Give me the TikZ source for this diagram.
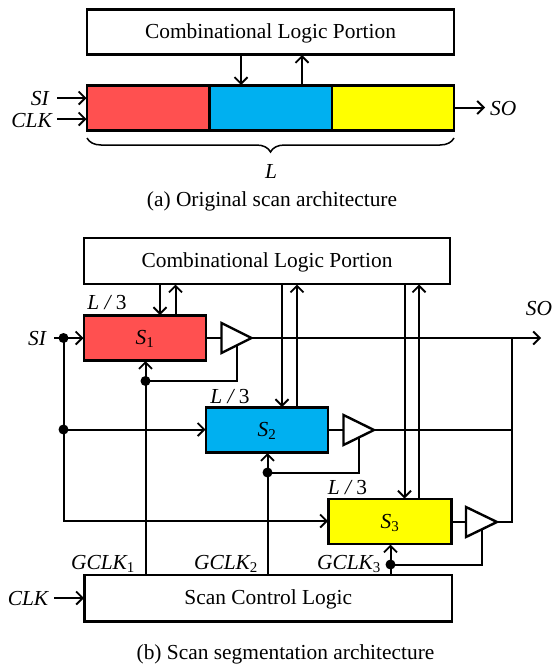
\documentclass[tikz,border=0pt]{standalone}
\usepackage{fontspec}
\setmainfont{Liberation Serif}
\usetikzlibrary{arrows.meta,decorations.pathreplacing}
\definecolor{cred}{RGB}{255,80,80}
\definecolor{cblue}{RGB}{0,176,240}
\definecolor{cyel}{RGB}{255,255,0}
\newcommand{\fz}{\fontsize{21.4}{24}\selectfont}
\begin{document}
\begin{tikzpicture}[x=1pt,y=-1pt,
  wire/.style={line width=2pt,line join=miter},
  arr/.style={wire,-{Straight Barb[length=6.5pt,width=13pt,line width=1.9pt]}},
  boxn/.style={draw,line width=2.4pt,anchor=north west,inner sep=0pt,outer sep=0pt,font=\fz,text height=16pt,text depth=3pt},
  reg/.style={boxn,font=\fz\itshape},
  lab/.style={inner sep=0pt,font=\fz},
  ilab/.style={inner sep=0pt,font=\fz\itshape,yshift=-1pt},
  dotn/.style={circle,fill=black,inner sep=0pt,minimum size=10pt},
  buf/.style={draw,line width=2.4pt,line join=miter}]
\useasboundingbox (0,0) rectangle (554,664);
% (a)
\node[boxn,minimum width=367pt,minimum height=45pt] (ca) at (87,9.5) {Combinational Logic Portion};
\node[boxn,fill=cred,minimum width=122.5pt,minimum height=45pt] (ra) at (87,85.5) {};
\node[boxn,fill=cblue,minimum width=122.5pt,minimum height=45pt] (rb) at (209.5,85.5) {};
\node[boxn,fill=cyel,minimum width=122pt,minimum height=45pt] (rc) at (332,85.5) {};
\coordinate (a1) at (241,54.5); \coordinate (a1e) at (241,85);
\coordinate (a2) at (302,85.5); \coordinate (a2e) at (302,55);
\draw[arr] (a1) -- (a1e);
\draw[arr] (a2) -- (a2e);
\node[ilab,anchor=east] (si) at (49,98) {SI};
\node[ilab,anchor=east] (clk) at (52,119.5) {CLK};
\coordinate (siS) at (57,98); \coordinate (siE) at (86.5,98);
\coordinate (clkS) at (57,119) ; \coordinate (clkE) at (86.5,119);
\draw[arr] (siS) -- (siE);
\draw[arr] (clkS) -- (clkE);
\coordinate (soS) at (454,107.5); \coordinate (soE) at (485,107.5);
\draw[arr] (soS) -- (soE);
\node[ilab,anchor=west] (so) at (490,107.5) {SO};
\coordinate (bl) at (87,138); \coordinate (br) at (454,138);
\draw[line width=1.5pt,decorate,decoration={brace,mirror,amplitude=14pt}] (bl) -- (br);
\node[ilab] (l) at (271,170) {L};
\node[lab] (capa) at (272,201.5) {(a) Original scan architecture};
% (b)
\node[boxn,minimum width=366pt,minimum height=46pt] (cb) at (84,238) {Combinational Logic Portion};
\node[reg,fill=cred,minimum width=122pt,minimum height=45pt] (s1) at (84,315.5) {S\textsubscript{\normalfont 1}};
\node[reg,fill=cblue,minimum width=122pt,minimum height=45pt] (s2) at (206,407.5) {S\textsubscript{\normalfont 2}};
\node[reg,fill=cyel,minimum width=123pt,minimum height=45pt] (s3) at (328.5,499) {S\textsubscript{\normalfont 3}};
\node[boxn,minimum width=367.5pt,minimum height=46.5pt] (scl) at (84.5,575) {Scan Control Logic};
% buffers
\draw[buf] (221.5,323) coordinate (b1a) -- (221.5,353) -- (251.5,338) coordinate (b1t) -- cycle;
\draw[buf] (343.5,415) coordinate (b2a) -- (343.5,445) -- (374,430) coordinate (b2t) -- cycle;
\draw[buf] (466,507) coordinate (b3a) -- (466,537) -- (497,522) coordinate (b3t) -- cycle;
\draw[wire] (206,338) -- (221.5,338);
\draw[wire] (328,430) -- (343.5,430);
\draw[wire] (451.5,522) -- (466,522);
% SI
\node[ilab] (sib) at (37,338) {SI};
\node[dotn] (d1) at (63.5,338) {};
\node[dotn] (d2) at (63.5,429.5) {};
\coordinate (siBs) at (54,338);
\draw[arr] (siBs) -- (83.5,338);
\draw[arr] (d1.center) -- (63.5,521) -- (328,521);
\draw[arr] (d2.center) -- (205.5,429.5);
% comb links
\draw[arr] (160,284) -- (160,315);
\draw[arr] (175.5,315.5) -- (175.5,284.5);
\draw[arr] (282,284) -- (282,407);
\draw[arr] (297,407.5) -- (297,284.5);
\draw[arr] (404.5,284) -- (404.5,498.5);
\draw[arr] (419,499) -- (419,284.5);
% SO
\draw[arr] (b1t) -- (541,338);
\node[ilab] (sob) at (539,308) {SO};
\draw[wire] (b2t) -- (512,430);
\draw[wire] (b3t) -- (512,522) -- (512,338);
% clocks
\draw[arr] (145.5,575) -- (145.5,361);
\node[dotn] (c1) at (145.5,381) {};
\draw[wire] (c1.center) -- (236.5,381) -- (236.5,346);
\draw[arr] (267.5,575) -- (267.5,453);
\node[dotn] (c2) at (267.5,472.5) {};
\draw[wire] (c2.center) -- (359,472.5) -- (359,438);
\draw[arr] (390.5,575) -- (390.5,544.5);
\node[dotn] (c3) at (390.5,564.5) {};
\draw[wire] (c3.center) -- (482,564.5) -- (482,530);
% labels
\node[ilab] at (107,302) {L / \normalfont 3};
\node[ilab] at (230,396) {L / \normalfont 3};
\node[ilab] at (347.5,487) {L / \normalfont 3};
\node[ilab] at (103,563) {GCLK\textsubscript{\normalfont 1}};
\node[ilab] at (226,563) {GCLK\textsubscript{\normalfont 2}};
\node[ilab] at (349,563) {GCLK\textsubscript{\normalfont 3}};
\node[ilab] (clkb) at (28,598) {CLK};
\draw[arr] (54,598) -- (84,598);
\node[lab] (capb) at (285.5,654) {(b) Scan segmentation architecture};
\end{tikzpicture}
\end{document}
